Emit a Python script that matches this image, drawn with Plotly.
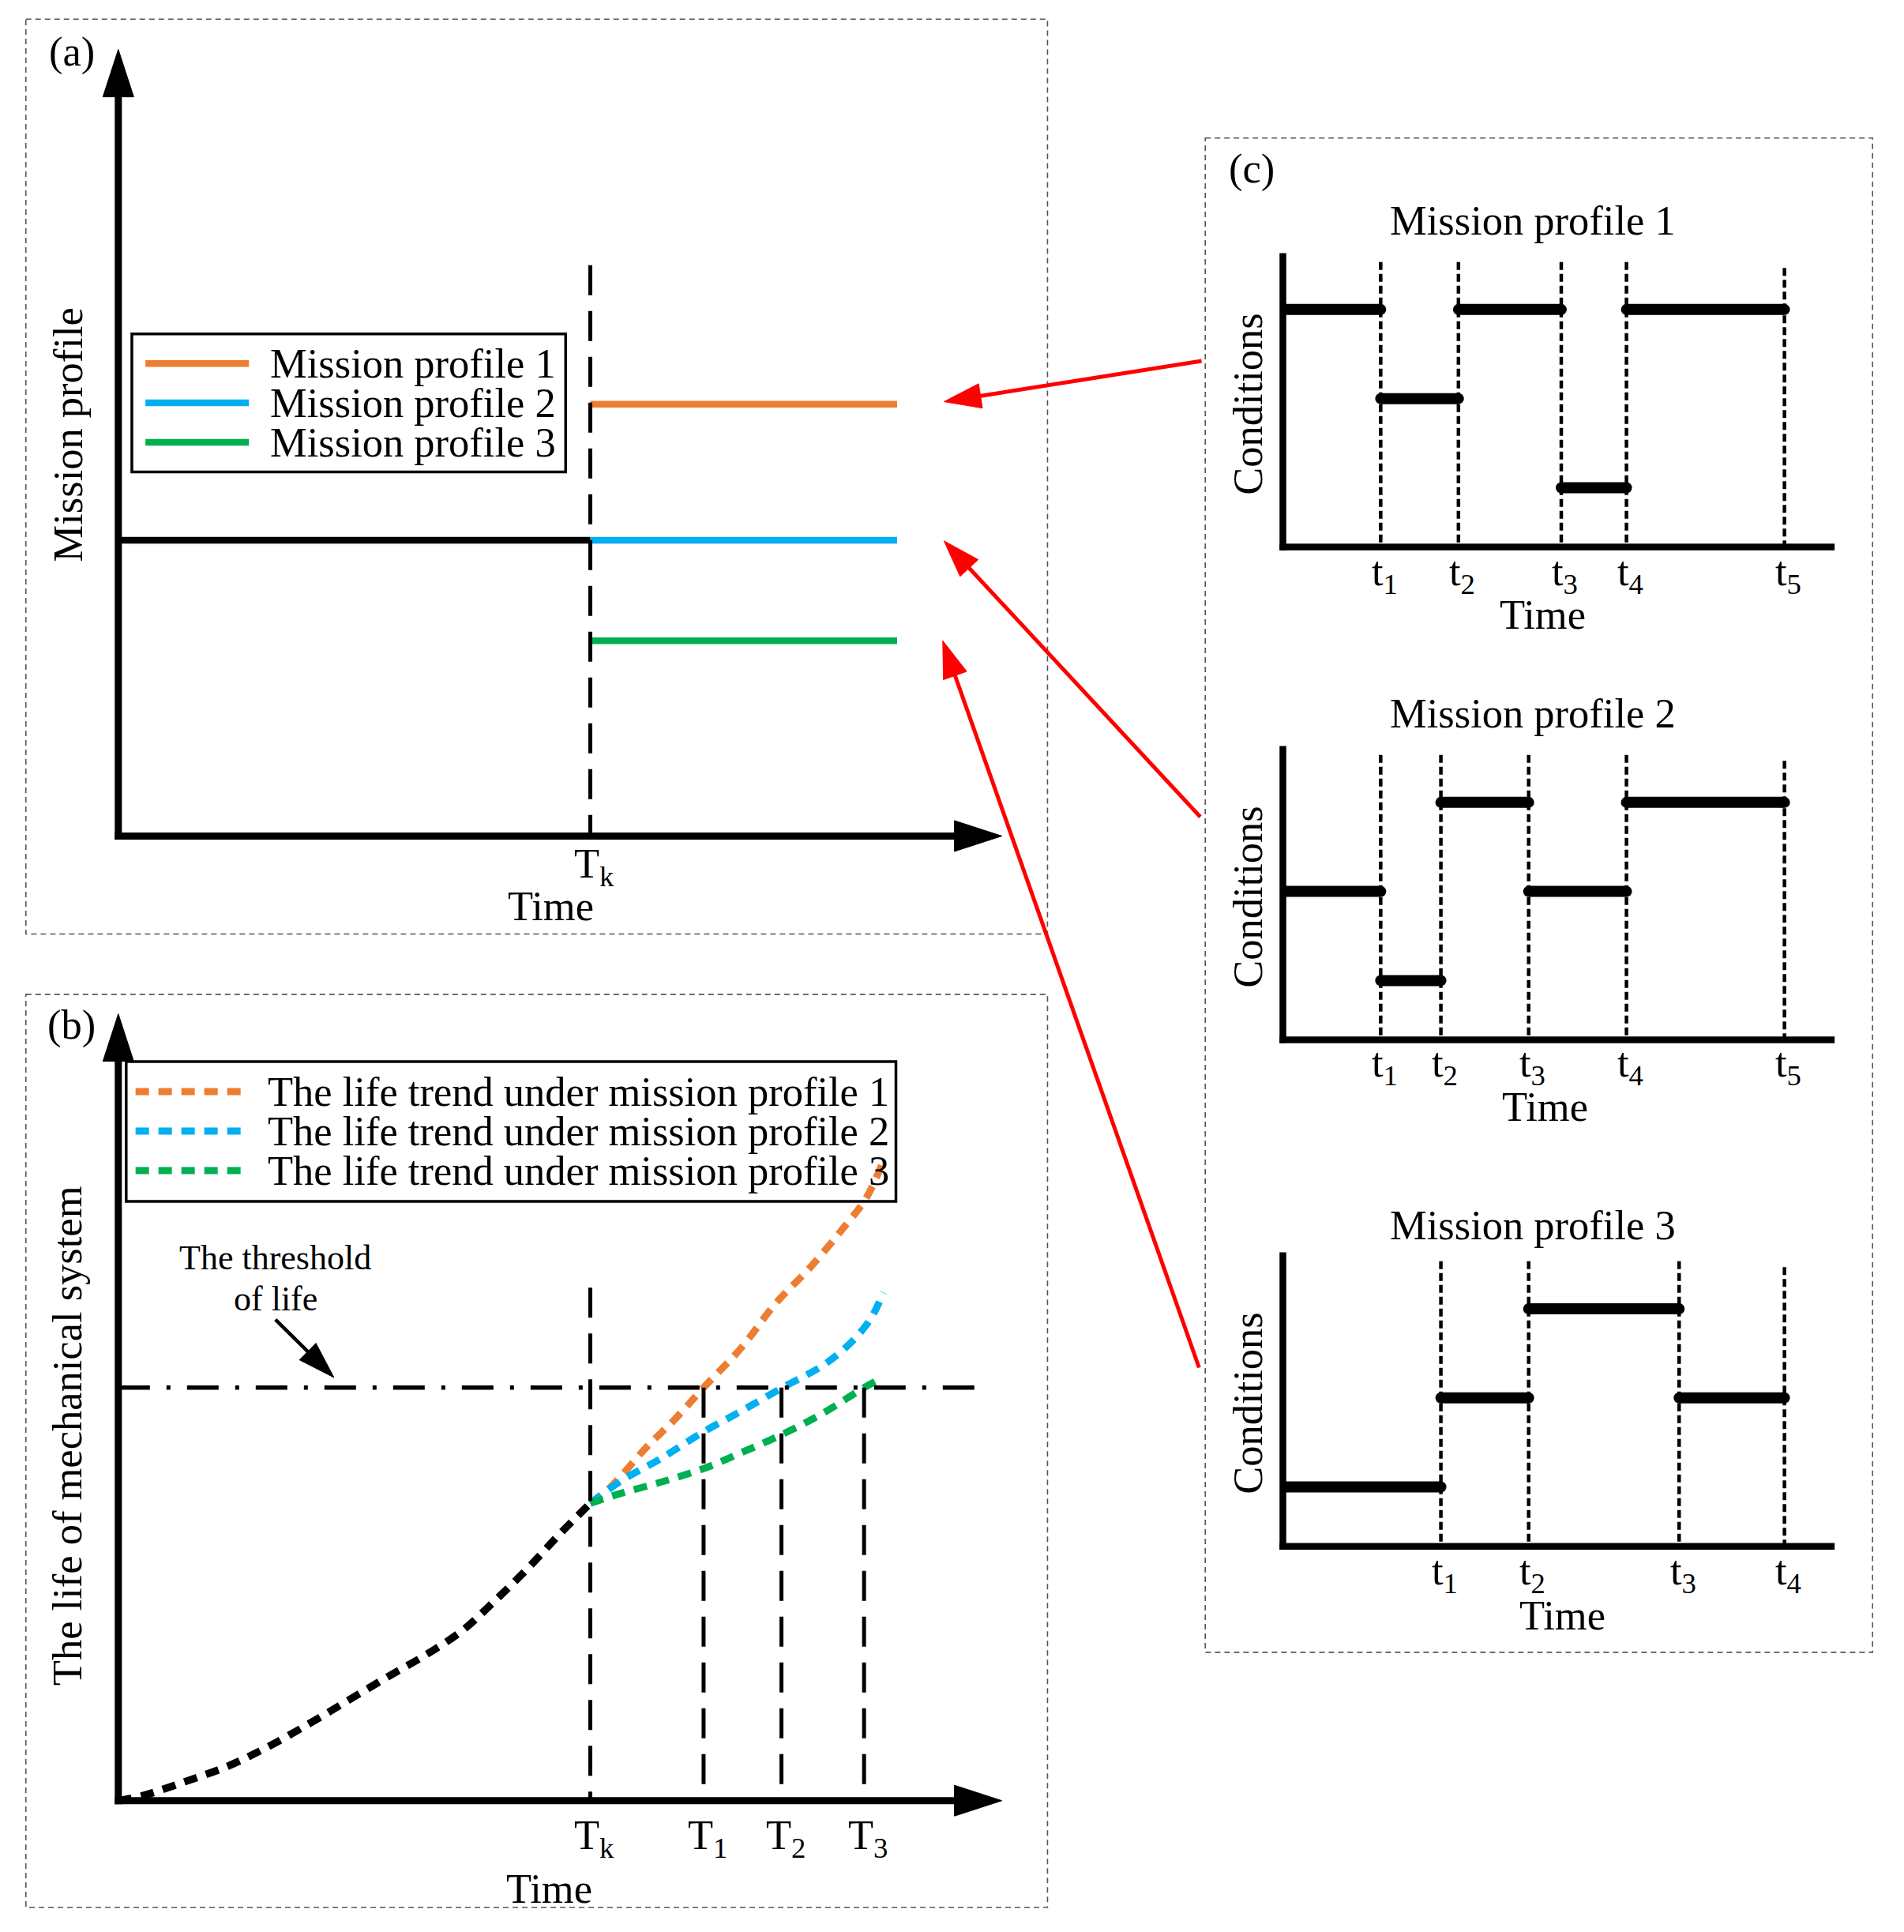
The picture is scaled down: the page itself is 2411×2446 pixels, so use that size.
import math
import plotly.graph_objects as go

W, H = 2411, 2446
DW, DH = 1545.0, 1568.0          # design grid (scaled to W x H)
FONT = "Liberation Serif"
FS = 52.5
BLACK = "black"

# ---------------- data ----------------
# panel (a): mission profile
a_Tk = 10.0
a_history_level = 10.0
a_profile_levels = [14.6, 10.0, 6.6]
a_profile_end = 16.5
a_Tk_top = 19.3
profile_names = ["Mission profile 1", "Mission profile 2", "Mission profile 3"]
profile_colors = ["#ED7D31", "#00B0F0", "#00B050"]

# panel (b): life trend
b_hist_x = [0.0, 0.52, 1.44, 2.33, 3.18, 4.04, 4.86, 5.68, 6.50, 7.28, 7.96, 8.68, 9.33, 10.0]
b_hist_y = [0.0, 0.12, 0.47, 0.84, 1.31, 1.86, 2.42, 2.98, 3.52, 4.11, 4.82, 5.63, 6.43, 7.2]
b_p1_x = [10.0, 10.42, 11.2, 11.78, 12.4, 13.21, 13.92, 14.65, 15.35, 15.85, 16.21]
b_p1_y = [7.2, 7.58, 8.57, 9.22, 10.0, 10.98, 12.03, 12.9, 13.85, 14.6, 15.5]
b_p2_x = [10.0, 10.65, 11.49, 12.4, 13.21, 14.07, 14.93, 15.51, 15.93, 16.21]
b_p2_y = [7.2, 7.74, 8.28, 8.93, 9.44, 10.0, 10.54, 11.08, 11.65, 12.3]
b_p3_x = [10.0, 10.65, 11.49, 12.4, 13.21, 14.07, 14.93, 15.8, 16.21]
b_p3_y = [7.2, 7.44, 7.71, 8.04, 8.43, 8.87, 9.38, 10.0, 10.25]
b_threshold = 10.0
b_threshold_end = 18.38
b_Tk_top = 12.42
b_T_values = [10.0, 12.4, 14.05, 15.8]
b_T_labels = ["T<sub>k</sub>", "T<sub>1</sub>", "T<sub>2</sub>", "T<sub>3</sub>"]
trend_names = ["The life trend under mission profile 1",
               "The life trend under mission profile 2",
               "The life trend under mission profile 3"]

# panel (c): operating conditions of each mission profile
c_titles = ["Mission profile 1", "Mission profile 2", "Mission profile 3"]
c_times = [[1.95, 3.5, 5.55, 6.85, 10.0],
           [1.95, 3.15, 4.9, 6.85, 10.0],
           [3.15, 4.9, 7.9, 10.0]]
c_levels = [[8, 5, 8, 2, 8],
            [5, 2, 8, 5, 8],
            [2, 5, 8, 5]]
c_dotted_top = 9.6
c_last_dotted_top = 9.4

# ---------------- geometry of the panels (design grid) ----------------
PANELS = {
    "a":  dict(ox=96,   oy=678.5,  ux=38.3, uy=24.0,  xmax=18.7, ymax=26.6),
    "b":  dict(ox=96,   oy=1461.4, ux=38.3, uy=33.52, xmax=18.7, ymax=19.05),
    "c1": dict(ox=1041, oy=444,    ux=40.7, uy=24.1,  xmax=11.0, ymax=10.0),
    "c2": dict(ox=1041, oy=844,    ux=40.7, uy=24.1,  xmax=11.0, ymax=10.0),
    "c3": dict(ox=1041, oy=1255,   ux=40.7, uy=24.1,  xmax=11.0, ymax=10.0),
}
ORDER = ["a", "b", "c1", "c2", "c3"]
AXREF = {k: ("x" if i == 0 else f"x{i+1}", "y" if i == 0 else f"y{i+1}") for i, k in enumerate(ORDER)}


def px(dx):
    return dx / DW


def py(dy):
    return 1 - dy / DH


fig = go.Figure()
shapes = []
annotations = []


def pline(x0, y0, x1, y1, width, color=BLACK, dash="solid"):
    shapes.append(dict(type="line", xref="paper", yref="paper",
                       x0=px(x0), y0=py(y0), x1=px(x1), y1=py(y1),
                       line=dict(color=color, width=width, dash=dash)))


def dline(key, x0, y0, x1, y1, width, color=BLACK, dash="solid"):
    xr, yr = AXREF[key]
    shapes.append(dict(type="line", xref=xr, yref=yr, x0=x0, y0=y0, x1=x1, y1=y1,
                       line=dict(color=color, width=width, dash=dash)))


def head(tip, tail, L, w, color=BLACK):
    tx, ty = tip
    vx, vy = tip[0] - tail[0], tip[1] - tail[1]
    n = math.hypot(vx, vy)
    ux, uy = vx / n, vy / n
    bx, by = tx - L * ux, ty - L * uy
    nx, ny = -uy, ux
    pts = [(tx, ty), (bx + w * nx, by + w * ny), (bx - w * nx, by - w * ny)]
    path = "M " + " L ".join(f"{px(a):.6f},{py(b):.6f}" for a, b in pts) + " Z"
    shapes.append(dict(type="path", xref="paper", yref="paper", path=path,
                       fillcolor=color, line=dict(color=color, width=1)))


def arrow(tail, tip, width, L, w, color=BLACK):
    vx, vy = tip[0] - tail[0], tip[1] - tail[1]
    n = math.hypot(vx, vy)
    end = (tip[0] - vx / n * L * 0.8, tip[1] - vy / n * L * 0.8)
    pline(tail[0], tail[1], end[0], end[1], width, color)
    head(tip, tail, L, w, color)


def text(s, dx, dy, size=FS, xanchor="center", angle=0, xref=None, xval=None, xshift=0):
    annotations.append(dict(text=s, x=xval if xref else px(dx), xref=xref or "paper",
                            y=py(dy), yref="paper", showarrow=False,
                            xanchor=xanchor, yanchor="middle", textangle=angle,
                            xshift=xshift,
                            font=dict(family=FONT, size=size, color=BLACK)))


def rect(x0, y0, x1, y1, width, color, dash="solid"):
    shapes.append(dict(type="rect", xref="paper", yref="paper",
                       x0=px(x0), y0=py(y0), x1=px(x1), y1=py(y1),
                       line=dict(color=color, width=width, dash=dash)))


# ---------------- axes ----------------
layout_axes = {}
for i, k in enumerate(ORDER):
    p = PANELS[k]
    xn = "xaxis" if i == 0 else f"xaxis{i+1}"
    yn = "yaxis" if i == 0 else f"yaxis{i+1}"
    xr, yr = AXREF[k]
    layout_axes[xn] = dict(domain=[px(p["ox"]), px(p["ox"] + p["xmax"] * p["ux"])],
                           range=[0, p["xmax"]], visible=False, anchor=yr, fixedrange=True)
    layout_axes[yn] = dict(domain=[py(p["oy"]), py(p["oy"] - p["ymax"] * p["uy"])],
                           range=[0, p["ymax"]], visible=False, anchor=xr, fixedrange=True)

# dashed frames
rect(21, 15.5, 850, 758, 1.6, "#555555", "7px,5px")
rect(21, 807, 850, 1548, 1.6, "#555555", "7px,5px")
rect(978, 112, 1519.5, 1341, 1.6, "#555555", "7px,5px")

# arrowed axes of (a) and (b)
AXW = 9
HL, HW = 38.5, 12.5
for k in ["a", "b"]:
    p = PANELS[k]
    ox, oy = p["ox"], p["oy"]
    top = p["oy"] - p["ymax"] * p["uy"]
    right = 813
    pline(ox, oy + 2.9, ox, top + HL * 0.8, AXW)
    head((ox, top), (ox, oy), HL, HW)
    pline(ox - 2.9, oy, right - HL * 0.8, oy, AXW)
    head((right, oy), (ox, oy), HL, HW)

TKDASH = "38px,20px"
CURVEDASH = "17px,12px"

# ---------------- panel (a) ----------------
xr, yr = AXREF["a"]
dline("a", a_Tk, a_Tk_top, a_Tk, 0, 5, dash=TKDASH)
fig.add_trace(go.Scatter(x=[0, a_Tk], y=[a_history_level] * 2, mode="lines",
                         line=dict(color=BLACK, width=8.5), xaxis=xr, yaxis=yr,
                         showlegend=False, hoverinfo="skip"))
for lvl, col, nm in zip(a_profile_levels, profile_colors, profile_names):
    fig.add_trace(go.Scatter(x=[a_Tk, a_profile_end], y=[lvl, lvl], mode="lines", name=nm,
                             line=dict(color=col, width=8.5), xaxis=xr, yaxis=yr,
                             showlegend=False))
# legend (a)
rect(107, 271, 459, 383, 3.5, BLACK)
for j, (col, nm) in enumerate(zip(profile_colors, profile_names)):
    yy = 295 + 32 * j
    pline(118, yy, 202, yy, 8.5, col)
    text(nm, 218, yy, xanchor="left")
text("(a)", 58, 42)
text("Mission profile", 55, 353, angle=-90)
text("T<sub>k</sub>", 0, 703, xref=xr, xval=a_Tk, xshift=5)
text("Time", 447, 735)

# ---------------- panel (b) ----------------
xr, yr = AXREF["b"]
dline("b", 0, b_threshold, b_threshold_end, b_threshold, 5.5, dash="40px,21px,5px,21px")
dline("b", b_T_values[0], b_Tk_top, b_T_values[0], 0, 5, dash=TKDASH)
for tv in b_T_values[1:]:
    dline("b", tv, b_threshold, tv, 0, 5, dash=TKDASH)
fig.add_trace(go.Scatter(x=b_hist_x, y=b_hist_y, mode="lines", line_shape="spline",
                         line=dict(color=BLACK, width=9.5, dash=CURVEDASH),
                         xaxis=xr, yaxis=yr, showlegend=False, hoverinfo="skip"))
for bx, by, col, nm in zip([b_p1_x, b_p2_x, b_p3_x], [b_p1_y, b_p2_y, b_p3_y],
                           profile_colors, trend_names):
    fig.add_trace(go.Scatter(x=bx, y=by, mode="lines", line_shape="spline", name=nm,
                             line=dict(color=col, width=9, dash=CURVEDASH),
                             xaxis=xr, yaxis=yr, showlegend=False))
for tv, tl in zip(b_T_values, b_T_labels):
    text(tl, 0, 1492, xref=xr, xval=tv, xshift=5)
text("Time", 446, 1533)
text("(b)", 58, 832)
text("The life of mechanical system", 55, 1165, angle=-90)
text("The threshold", 223.5, 1021, size=44)
text("of life", 223.5, 1054, size=44)
arrow((223.5, 1071), (271, 1118), 4.5, 30, 9.5)
# legend (b)
rect(102.4, 861.5, 727, 975, 3.5, BLACK)
for j, (col, nm) in enumerate(zip(profile_colors, trend_names)):
    yy = 886 + 32 * j
    pline(110, yy, 197, yy, 9, col, CURVEDASH)
    text(nm, 216, yy, xanchor="left")

# ---------------- panel (c) ----------------
text("(c)", 1016, 137)
title_y = [179, 579, 994]
cond_y = [328, 728, 1139]
tick_y = [466, 865, 1277]
time_pos = [(1252, 499), (1254, 898), (1268, 1311)]
for i, k in enumerate(["c1", "c2", "c3"]):
    p = PANELS[k]
    xr, yr = AXREF[k]
    ox, oy = p["ox"], p["oy"]
    pline(ox, oy + 2.7, ox, oy - 9.9 * p["uy"], 8.5)
    pline(ox - 2.7, oy, ox + p["xmax"] * p["ux"], oy, 8.5)
    times = c_times[i]
    for j, t in enumerate(times):
        top = c_last_dotted_top if j == len(times) - 1 else c_dotted_top
        dline(k, t, top, t, 0, 4.5, dash="10px,5px")
        text(f"t<sub>{j+1}</sub>", 0, tick_y[i], xref=xr, xval=t, xshift=5)
    starts = [0.0] + times[:-1]
    sx, sy = [], []
    for s, e, lv in zip(starts, times, c_levels[i]):
        sx += [s, e, None]
        sy += [lv, lv, None]
    fig.add_trace(go.Scatter(x=sx, y=sy, mode="lines+markers",
                             line=dict(color=BLACK, width=14),
                             marker=dict(color=BLACK, size=14),
                             xaxis=xr, yaxis=yr, showlegend=False, name=c_titles[i]))
    text(c_titles[i], 1244, title_y[i])
    text("Conditions", 1012.5, cond_y[i], angle=-90)
    text("Time", time_pos[i][0], time_pos[i][1])

# ---------------- red arrows linking (c) to (a) ----------------
RED = "#FF0000"
arrow((975, 293), (766, 326), 5, 30, 10, RED)
arrow((974, 663), (766, 439), 5, 30, 10, RED)
arrow((973, 1110), (765, 520), 5, 30, 10, RED)

fig.update_layout(width=W, height=H, margin=dict(l=0, r=0, t=0, b=0),
                  paper_bgcolor="white", plot_bgcolor="white",
                  shapes=shapes, annotations=annotations, showlegend=False,
                  **layout_axes)
fig.write_html("out.html", config={"displayModeBar": False},
               post_script="document.body.style.margin='0px';document.body.style.padding='0px';")
